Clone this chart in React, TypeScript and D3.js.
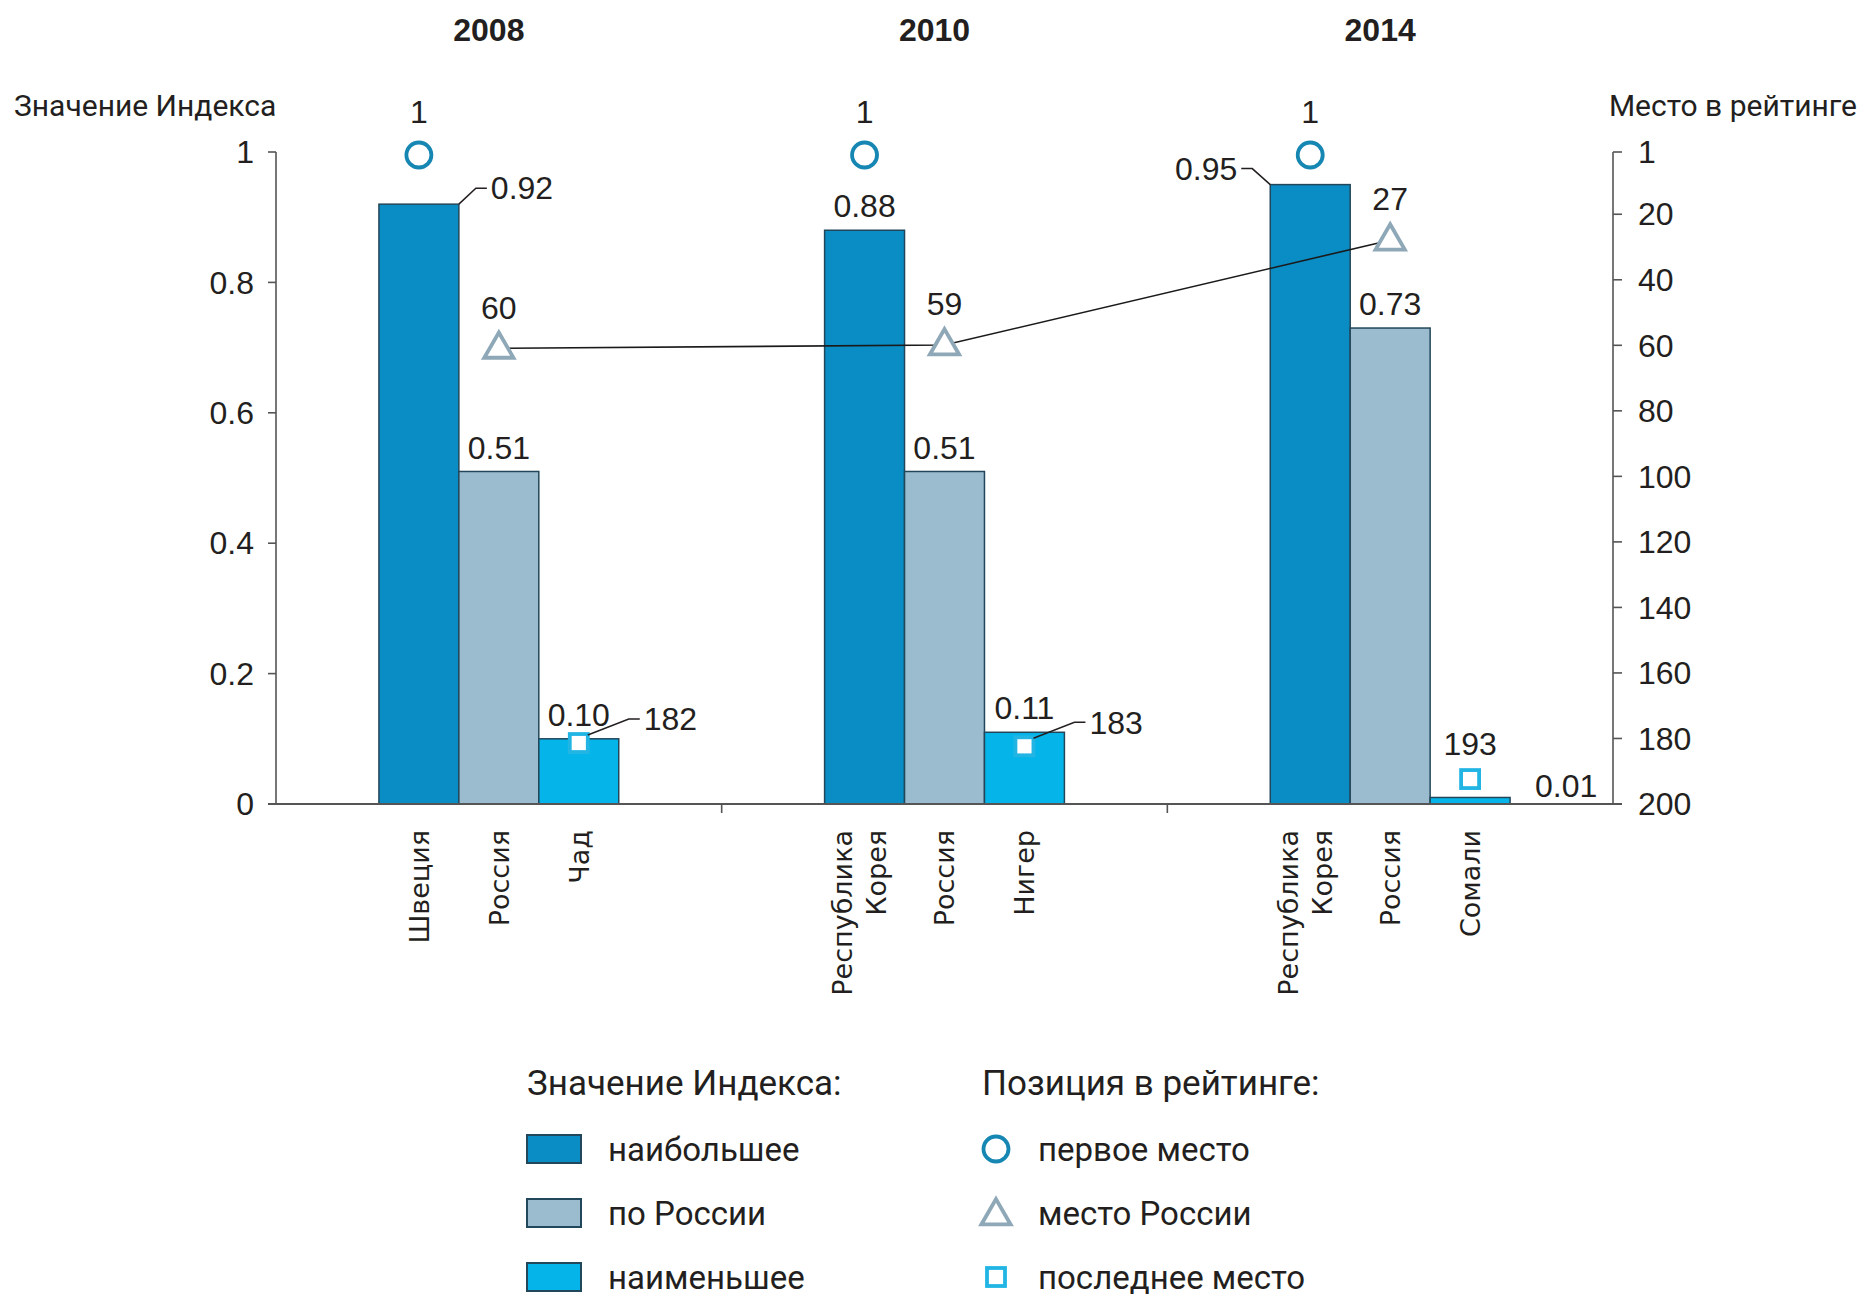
import React from 'react';
import * as d3 from 'd3';

const years = ['2008', '2010', '2014'];
const topCountries = ['Швеция', 'Республика\nКорея', 'Республика\nКорея'];
const russiaCountries = ['Россия', 'Россия', 'Россия'];
const bottomCountries = ['Чад', 'Нигер', 'Сомали'];
const topValues = [0.92, 0.88, 0.95];
const russiaValues = [0.51, 0.51, 0.73];
const bottomValues = [0.1, 0.11, 0.01];
const topRanks = [1, 1, 1];
const russiaRanks = [60, 59, 27];
const bottomRanks = [182, 183, 193];
const leftTicks = [0, 0.2, 0.4, 0.6, 0.8, 1];
const leftTickLabels = ['0', '0.2', '0.4', '0.6', '0.8', '1'];
const rightTicks = [1, 20, 40, 60, 80, 100, 120, 140, 160, 180, 200];
const seriesKeys = ['top', 'russia', 'bottom'];
const legendBarLabels = ['наибольшее', 'по России', 'наименьшее'];
const legendMarkLabels = ['первое место', 'место России', 'последнее место'];

const C_TOP = '#0a8cc4';
const C_RUS = '#9bbcce';
const C_BOT = '#05b4e8';
const C_CIRCLE = '#1686b2';
const C_TRI = '#8ea8b7';
const C_SQ = '#22b5e4';
const EDGE = '#23475a';
const TXT = '#231f20';
const AX = '#555';

const NUM = "'Liberation Sans Narrow', 'Arial Narrow', 'Liberation Sans', sans-serif";
const TITLE = "Roboto, 'Noto Sans', sans-serif";
const CAT = "'DejaVu Sans', Verdana, sans-serif";

export default function App() {
  const W = 1864, H = 1302;
  const x0 = d3.scaleBand<string>().domain(years).range([276, 1613]).paddingInner(0).paddingOuter(0);
  const x1 = d3.scaleBand<string>().domain(seriesKeys).range([0, x0.bandwidth()]).paddingInner(0).paddingOuter(1.2875);
  const y = d3.scaleLinear().domain([0, 1]).range([804, 152]);
  const yr = d3.scaleLinear().domain([1, 200]).range([152, 804]);
  const bw = x1.bandwidth();
  const cx = (yi: number, key: string) => (x0(years[yi]) as number) + (x1(key) as number) + bw / 2;
  const valuesBy: Record<string, number[]> = { top: topValues, russia: russiaValues, bottom: bottomValues };
  const colorBy: Record<string, string> = { top: C_TOP, russia: C_RUS, bottom: C_BOT };
  const namesBy: Record<string, string[]> = { top: topCountries, russia: russiaCountries, bottom: bottomCountries };
  const tri = d3.symbol(d3.symbolTriangle, 370)() as string;
  const lineGen = d3.line<number>().x((_, i) => cx(i, 'russia')).y((r) => yr(r) + 3);
  const baseY = y(0);

  const numStyle = { fontFamily: NUM, fontSize: 32, fill: TXT } as const;
  const legTop = 1149;
  const legStep = 64;

  return (
    <svg width={W} height={H} style={{ position: 'absolute', left: 0, top: 0, background: '#fff' }}>
      {/* year headers */}
      {years.map((yr_) => (
        <text key={yr_} x={(x0(yr_) as number) + x0.bandwidth() / 2 - 10} y={30} dy="0.35em" textAnchor="middle"
          style={{ fontFamily: NUM, fontSize: 32, fontWeight: 700, fill: TXT }}>{yr_}</text>
      ))}
      {/* axis titles */}
      <text x={14} y={105} dy="0.35em" style={{ fontFamily: TITLE, fontSize: 30, fill: TXT }}>Значение Индекса</text>
      <text x={1857} y={105} dy="0.35em" textAnchor="end" style={{ fontFamily: TITLE, fontSize: 30, fill: TXT }}>Место в рейтинге</text>

      {/* bars */}
      {seriesKeys.map((k) =>
        years.map((yy, i) => {
          const v = valuesBy[k][i];
          return (
            <rect key={k + yy} x={(x0(yy) as number) + (x1(k) as number)} y={y(v)} width={bw} height={baseY - y(v)}
              fill={colorBy[k]} stroke={EDGE} strokeWidth={1.5} />
          );
        })
      )}

      {/* left axis */}
      <line x1={276} x2={276} y1={y(1)} y2={baseY} stroke={AX} strokeWidth={1.6} />
      {leftTicks.map((t, i) => (
        <g key={'lt' + t}>
          <line x1={268} x2={276} y1={y(t)} y2={y(t)} stroke={AX} strokeWidth={1.6} />
          <text x={254} y={y(t)} dy="0.35em" textAnchor="end" style={numStyle}>{leftTickLabels[i]}</text>
        </g>
      ))}
      {/* right axis */}
      <line x1={1613} x2={1613} y1={yr(1)} y2={yr(200)} stroke={AX} strokeWidth={1.6} />
      {rightTicks.map((t) => (
        <g key={'rt' + t}>
          <line x1={1613} x2={1622} y1={yr(t)} y2={yr(t)} stroke={AX} strokeWidth={1.6} />
          <text x={1638} y={yr(t)} dy="0.35em" style={numStyle}>{t}</text>
        </g>
      ))}
      {/* baseline & category ticks */}
      <line x1={268} x2={1622} y1={baseY} y2={baseY} stroke={AX} strokeWidth={1.8} />
      {years.slice(1).map((yy) => (
        <line key={'ct' + yy} x1={x0(yy) as number} x2={x0(yy) as number} y1={baseY} y2={baseY + 9} stroke={AX} strokeWidth={1.6} />
      ))}

      {/* category labels (rotated) */}
      {seriesKeys.map((k) =>
        years.map((yy, i) => {
          const lines = namesBy[k][i].split('\n');
          const c = cx(i, k);
          const offs = lines.length === 1 ? [0] : [-22, 12];
          return lines.map((ln, j) => (
            <text key={k + yy + j} transform={`translate(${c + offs[j]},830) rotate(-90)`} dy="0.36em" textAnchor="end"
              style={{ fontFamily: CAT, fontSize: 27, fill: TXT }}>{ln}</text>
          ));
        })
      )}

      {/* russia rank line */}
      <path d={lineGen(russiaRanks) as string} fill="none" stroke="#1a1a1a" strokeWidth={1.6} />

      {/* markers */}
      {years.map((yy, i) => (
        <g key={'m' + yy}>
          <circle cx={cx(i, 'top')} cy={yr(topRanks[i]) + 3} r={12.5} fill="#fff" stroke={C_CIRCLE} strokeWidth={3.8} />
          <text x={cx(i, 'top')} y={yr(topRanks[i]) - 40} dy="0.35em" textAnchor="middle" style={numStyle}>{topRanks[i]}</text>
          <path d={tri} transform={`translate(${cx(i, 'russia')},${yr(russiaRanks[i]) + 4})`} fill="#fff" stroke={C_TRI} strokeWidth={3.8} />
          <text x={cx(i, 'russia')} y={yr(russiaRanks[i]) - 38} dy="0.35em" textAnchor="middle" style={numStyle}>{russiaRanks[i]}</text>
          <rect x={cx(i, 'bottom') - 9} y={yr(bottomRanks[i]) - 11} width={18} height={18} fill="#fff" stroke={C_SQ} strokeWidth={3.8} />
        </g>
      ))}

      {/* value labels */}
      {years.map((yy, i) => {
        const xb = (x0(yy) as number) + (x1('top') as number);
        const t = y(topValues[i]);
        if (i === 0) {
          return (
            <g key={'vt' + yy}>
              <polyline points={`${xb + bw},${t} ${xb + bw + 17},${t - 16} ${xb + bw + 28},${t - 16}`} fill="none" stroke={TXT} strokeWidth={1.5} />
              <text x={xb + bw + 32} y={t - 16} dy="0.35em" style={numStyle}>{topValues[i].toFixed(2)}</text>
            </g>
          );
        }
        if (i === 2) {
          return (
            <g key={'vt' + yy}>
              <polyline points={`${xb},${t} ${xb - 18},${t - 16} ${xb - 29},${t - 16}`} fill="none" stroke={TXT} strokeWidth={1.5} />
              <text x={xb - 33} y={t - 16} dy="0.35em" textAnchor="end" style={numStyle}>{topValues[i].toFixed(2)}</text>
            </g>
          );
        }
        return (
          <text key={'vt' + yy} x={cx(i, 'top')} y={t - 24} dy="0.35em" textAnchor="middle" style={numStyle}>{topValues[i].toFixed(2)}</text>
        );
      })}
      {years.map((yy, i) => (
        <text key={'vr' + yy} x={cx(i, 'russia')} y={y(russiaValues[i]) - 24} dy="0.35em" textAnchor="middle" style={numStyle}>{russiaValues[i].toFixed(2)}</text>
      ))}
      {years.map((yy, i) => {
        const c = cx(i, 'bottom');
        const t = y(bottomValues[i]);
        const sy = yr(bottomRanks[i]);
        if (i < 2) {
          return (
            <g key={'vb' + yy}>
              <text x={c} y={t - 24} dy="0.35em" textAnchor="middle" style={numStyle}>{bottomValues[i].toFixed(2)}</text>
              <polyline points={`${c + 9},${sy - 10} ${c + 50},${sy - 26} ${c + 61},${sy - 26}`} fill="none" stroke={TXT} strokeWidth={1.5} />
              <text x={c + 65} y={sy - 26} dy="0.35em" style={numStyle}>{bottomRanks[i]}</text>
            </g>
          );
        }
        return (
          <g key={'vb' + yy}>
            <text x={c} y={sy - 37} dy="0.35em" textAnchor="middle" style={numStyle}>{bottomRanks[i]}</text>
            <text x={c + bw / 2 + 25} y={t - 12} dy="0.35em" style={numStyle}>{bottomValues[i].toFixed(2)}</text>
          </g>
        );
      })}

      {/* legend */}
      <text x={527} y={legTop - 66} dy="0.35em" style={{ fontFamily: TITLE, fontSize: 35, fill: TXT }}>Значение Индекса:</text>
      <text x={982} y={legTop - 66} dy="0.35em" style={{ fontFamily: TITLE, fontSize: 35, fill: TXT }}>Позиция в рейтинге:</text>
      {seriesKeys.map((k, j) => {
        const cy = legTop + j * legStep;
        return (
          <g key={'lg' + k}>
            <rect x={527} y={cy - 14} width={54} height={28} fill={colorBy[k]} stroke={EDGE} strokeWidth={2} />
            <text x={608} y={cy} dy="0.35em" style={{ fontFamily: TITLE, fontSize: 33, fill: TXT }}>{legendBarLabels[j]}</text>
          </g>
        );
      })}
      <circle cx={996} cy={legTop} r={12.5} fill="#fff" stroke={C_CIRCLE} strokeWidth={3.8} />
      <path d={tri} transform={`translate(996,${legTop + legStep + 3})`} fill="#fff" stroke={C_TRI} strokeWidth={3.8} />
      <rect x={996 - 9} y={legTop + 2 * legStep - 9} width={18} height={18} fill="#fff" stroke={C_SQ} strokeWidth={3.8} />
      {legendMarkLabels.map((l, j) => (
        <text key={'lm' + j} x={1038} y={legTop + j * legStep} dy="0.35em" style={{ fontFamily: TITLE, fontSize: 33, fill: TXT }}>{l}</text>
      ))}
    </svg>
  );
}
